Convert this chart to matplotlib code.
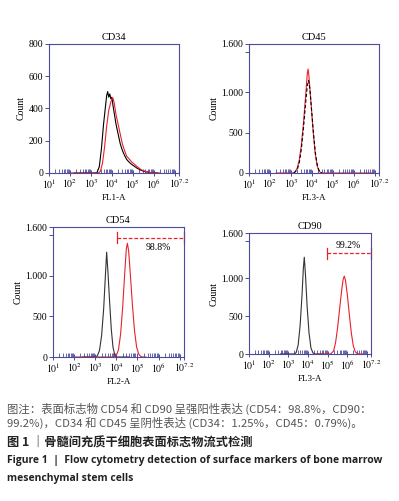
import numpy as np
import matplotlib
matplotlib.use('Agg')
import matplotlib.pyplot as plt
from matplotlib.ticker import FixedLocator, LogLocator, NullFormatter

plt.rcParams['font.family'] = ['Liberation Serif', 'DejaVu Serif']
plt.rcParams['mathtext.fontset'] = 'stix'

# histogram data: log10(fluorescence) and count
cd34_blk_x = [2.2, 3.2, 3.3, 3.4, 3.5, 3.6, 3.7, 3.75, 3.8, 3.85, 3.9, 3.95, 4.0, 4.05, 4.1, 4.2,
              4.3, 4.4, 4.5, 4.6, 4.7, 4.8, 4.9, 5.0, 5.2, 5.4, 5.6, 5.8, 6.0, 6.2]
cd34_blk_y = [0, 0, 5, 40, 150, 300, 420, 480, 505, 470, 490, 460, 470, 420, 380, 300,
              240, 180, 140, 110, 85, 70, 58, 48, 30, 16, 8, 3, 0, 0]
cd34_red_x = [2.0, 3.35, 3.45, 3.55, 3.65, 3.75, 3.85, 3.95, 4.0, 4.05, 4.1, 4.2, 4.3, 4.4, 4.5,
              4.6, 4.7, 4.8, 4.9, 5.0, 5.2, 5.4, 5.6, 5.8, 6.0, 6.3]
cd34_red_y = [0, 0, 10, 60, 160, 290, 390, 440, 460, 465, 440, 360, 300, 240, 180,
              140, 105, 90, 75, 62, 40, 20, 10, 4, 0, 0]

cd45_red_x = [2.3, 3.1, 3.2, 3.3, 3.4, 3.5, 3.6, 3.7, 3.78, 3.82, 3.86, 3.95, 4.05, 4.15, 4.25,
              4.35, 4.45, 6.9]
cd45_red_y = [0, 0, 15, 60, 160, 350, 620, 950, 1230, 1290, 1200, 900, 550, 260, 90, 20, 0, 0]
cd45_blk_x = [3.15, 3.3, 3.4, 3.5, 3.6, 3.7, 3.78, 3.84, 3.9, 3.98, 4.08, 4.18, 4.28, 4.38, 4.48]
cd45_blk_y = [0, 40, 130, 300, 560, 860, 1080, 1150, 1050, 800, 480, 220, 70, 10, 0]

cd54_blk_x = [2.4, 3.0, 3.1, 3.2, 3.3, 3.4, 3.47, 3.54, 3.6, 3.68, 3.76, 3.84, 3.92, 4.0, 4.6]
cd54_blk_y = [0, 0, 15, 80, 260, 600, 950, 1290, 1050, 680, 340, 120, 30, 0, 0]
cd54_red_x = [2.0, 3.9, 4.0, 4.1, 4.2, 4.3, 4.4, 4.47, 4.52, 4.58, 4.66, 4.76, 4.86, 4.96, 5.06,
              5.16, 5.25, 5.4]
cd54_red_y = [0, 0, 20, 90, 280, 620, 1050, 1330, 1400, 1310, 1020, 640, 320, 120, 35, 5, 0, 0]

cd90_blk_x = [2.6, 3.3, 3.4, 3.5, 3.6, 3.7, 3.76, 3.81, 3.87, 3.95, 4.05, 4.15, 4.25, 4.35, 4.8]
cd90_blk_y = [0, 0, 20, 120, 380, 800, 1120, 1280, 1050, 650, 280, 80, 15, 0, 0]
cd90_red_x = [4.5, 5.15, 5.3, 5.4, 5.5, 5.6, 5.7, 5.78, 5.84, 5.9, 6.0, 6.1, 6.2, 6.3, 6.4,
              6.5, 6.6, 6.8]
cd90_red_y = [0, 0, 40, 150, 340, 580, 820, 980, 1030, 980, 780, 520, 280, 110, 30, 5, 0, 0]

# gates: (start log, count, label, label log, label count)
cd54_gate = (4.02, 1468, '98.8%', 5.98, 1345)
cd90_gate = (4.94, 1331, '99.2%', 6.03, 1441)

x_exp = [1, 2, 3, 4, 5, 6, 7, 7.2]
x_labels = ['$10^{1}$', '$10^{2}$', '$10^{3}$', '$10^{4}$', '$10^{5}$', '$10^{6}$', '', '$10^{7.2}$']

RED = '#e8212b'
BLUE = '#4c4c9c'

fig = plt.figure(figsize=(3.99, 5.01), dpi=100)

panels = [
    ([0.1228, 0.6547, 0.3258, 0.2575], 'CD34', 'FL1-A', 800, [0, 200, 400, 600, 800],
     ['0', '200', '400', '600', '800']),
    ([0.624, 0.6547, 0.3258, 0.2575], 'CD45', 'FL3-A', 1600, [0, 500, 1000, 1500, 1600],
     ['0', '500', '1.000', '', '1.600']),
    ([0.1328, 0.2874, 0.3283, 0.2595], 'CD54', 'FL2-A', 1600, [0, 500, 1000, 1500, 1600],
     ['0', '500', '1.000', '', '1.600']),
    ([0.624, 0.2934, 0.3058, 0.2415], 'CD90', 'FL3-A', 1600, [0, 500, 1000, 1500, 1600],
     ['0', '500', '1.000', '', '1.600']),
]

curves = [
    [(cd34_blk_x, cd34_blk_y, 'k', '-'), (cd34_red_x, cd34_red_y, RED, '-')],
    [(cd45_red_x, cd45_red_y, RED, '-'), (cd45_blk_x, cd45_blk_y, 'k', (0, (3, 2)))],
    [(cd54_blk_x, cd54_blk_y, '#333333', '-'), (cd54_red_x, cd54_red_y, RED, '-')],
    [(cd90_blk_x, cd90_blk_y, '#333333', '-'), (cd90_red_x, cd90_red_y, RED, '-')],
]
gates = [None, None, cd54_gate, cd90_gate]

for (rect, title, xlab, ymax, yt, ytl), cs, gate in zip(panels, curves, gates):
    ax = fig.add_axes(rect)
    for xs, ys, c, ls in cs:
        ax.plot(10.0 ** np.array(xs), ys, color=c, lw=0.8, ls=ls)
    ax.set_xscale('log')
    ax.set_xlim(10 ** 1, 10 ** 7.2)
    ax.set_ylim(0, ymax)
    ax.xaxis.set_major_locator(FixedLocator([10.0 ** e for e in x_exp]))
    ax.set_xticklabels(x_labels)
    ax.xaxis.set_minor_locator(LogLocator(base=10, subs=np.arange(2, 10) * 1.0, numticks=20))
    ax.xaxis.set_minor_formatter(NullFormatter())
    ax.set_yticks(yt)
    ax.set_yticklabels(ytl)
    ax.tick_params(axis='x', which='major', direction='inout', length=4, width=0.7,
                   color=BLUE, labelsize=7, pad=1)
    ax.tick_params(axis='x', which='minor', direction='in', length=3, width=0.6, color=BLUE)
    ax.tick_params(axis='y', direction='out', length=3, width=0.7, color=BLUE,
                   labelsize=7, pad=1)
    for sp in ax.spines.values():
        sp.set_color(BLUE)
        sp.set_linewidth(0.8)
    ax.set_title(title, fontsize=7.5, pad=3)
    ax.set_xlabel(xlab, fontsize=6.5, labelpad=2)
    ax.set_ylabel('Count', fontsize=7, labelpad=2)
    if gate:
        g0, gy, glab, lx, ly = gate
        ax.plot([10 ** g0, 10 ** 7.2], [gy, gy], color=RED, lw=0.9, ls=(0, (3, 1.5)),
                clip_on=False)
        for gx in (10 ** g0, 10 ** 7.2):
            ax.plot([gx, gx], [gy - 70, gy + 70], color=RED, lw=0.9, clip_on=False)
        ax.text(10 ** lx, ly, glab, fontsize=7, ha='center', va='center')

cap1 = '图注：表面标志物 CD54 和 CD90 呈强阳性表达 (CD54：98.8%，CD90：'
cap2 = '99.2%)，CD34 和 CD45 呈阴性表达 (CD34：1.25%，CD45：0.79%)。'
cap3 = '图 1 ｜骨髓间充质干细胞表面标志物流式检测'
cap4 = 'Figure 1  |  Flow cytometry detection of surface markers of bone marrow'
cap5 = 'mesenchymal stem cells'

cjk = ['Noto Sans CJK SC', 'DejaVu Sans']
fig.text(7 / 399, 1 - 409 / 501, cap1, family=cjk, fontsize=8.2, color='#555555', va='center')
fig.text(7 / 399, 1 - 423 / 501, cap2, family=cjk, fontsize=8.2, color='#555555', va='center')
fig.text(7 / 399, 1 - 442 / 501, cap3, family=cjk, fontsize=8.8, color='#222222',
         weight='bold', va='center')
fig.text(7 / 399, 1 - 460 / 501, cap4, family=['Open Sans', 'DejaVu Sans'], fontsize=7.45,
         color='#222222', weight='bold', va='center')
fig.text(7 / 399, 1 - 478 / 501, cap5, family=['Open Sans', 'DejaVu Sans'], fontsize=7.45,
         color='#222222', weight='bold', va='center')

fig.savefig('out.png', dpi=100)
